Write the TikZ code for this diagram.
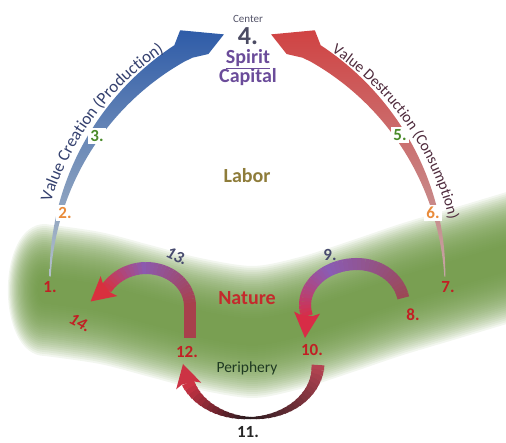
\documentclass[tikz,border=0pt]{standalone}
\usepackage{fontspec}
\setmainfont{Carlito}
\usetikzlibrary{calc,decorations.text}

% palette
\definecolor{blobgreen}{HTML}{6C9642}
\definecolor{vcTop}{HTML}{2F5CA8}
\definecolor{vcMid}{HTML}{4A76BA}
\definecolor{vcBot}{HTML}{B4C0CA}
\definecolor{vdTop}{HTML}{D04343}
\definecolor{vdMid}{HTML}{D45C5C}
\definecolor{vdBot}{HTML}{C4A6A6}
\definecolor{vcText}{HTML}{34406E}
\definecolor{vdText}{HTML}{4E2A3C}
\definecolor{centerGray}{HTML}{55556A}
\definecolor{fourGray}{HTML}{4B4B63}
\definecolor{spiritPurple}{HTML}{6B4C9A}
\definecolor{laborGold}{HTML}{8E7C3A}
\definecolor{natureRed}{HTML}{C42A2C}
\definecolor{peripheryGreen}{HTML}{1F3A22}
\definecolor{numRed}{HTML}{C21F24}
\definecolor{numOrange}{HTML}{E98B3A}
\definecolor{numGreen}{HTML}{4B8B2B}
\definecolor{numSlate}{HTML}{474A6E}
\definecolor{numDark}{HTML}{262626}
% small loop arrows: start / middle / end colours
\definecolor{aS}{HTML}{A8404C}
\definecolor{aM}{HTML}{8C5AAE}
\definecolor{aE}{HTML}{D8303E}
\definecolor{bS}{HTML}{9C4856}
\definecolor{bM}{HTML}{8A5CB4}
\definecolor{bE}{HTML}{D82C46}
\definecolor{cS}{HTML}{B44452}
\definecolor{cM}{HTML}{2A1A1E}
\definecolor{cE}{HTML}{CC3344}

% arrow head: #1 base centre, #2 tip, #3 colour, #4 half shaft width
\newcommand\headat[4]{%
  \path ($(#1)!-3pt!(#2)$) coordinate (hq);
  \fill[#3] ($(#1)!#4!90:(#2)$) -- ($(hq)!13pt!90:(#2)$) -- (#2)
    -- ($(hq)!13pt!-90:(#2)$) -- ($(#1)!#4!-90:(#2)$) -- cycle;
}

\begin{document}
\begin{tikzpicture}[x=1pt,y=1pt,
  num/.style={font=\bfseries\fontsize{17}{17}\selectfont, inner sep=1pt},
  gapnum/.style={num, fill=white, inner sep=2pt},
  slanted/.style={font=\bfseries\itshape\fontsize{17}{17}\selectfont, inner sep=1pt},
  word/.style={font=\bfseries\fontsize{20}{20}\selectfont, inner sep=0pt}]
\useasboundingbox (0,0) rectangle (506,443);
\clip (0,0) rectangle (506,443);

% soft green band of nature, built from many faint layers
\foreach \e in {14,16,...,66}{
  \fill[blobgreen, opacity=0.085]
    plot[smooth] coordinates {(45,{153+\e}) (100,{145+\e}) (150,{132+\e}) (200,{119+\e}) (253,{111+\e}) (300,{120+\e}) (350,{136+\e}) (400,{153+\e}) (450,{168+\e}) (500,{183+\e}) (540,{195+\e})}
    -- plot[smooth] coordinates {(540,{195-\e}) (500,{183-\e}) (450,{168-\e}) (400,{153-\e}) (350,{136-\e}) (300,{120-\e}) (253,{111-\e}) (200,{119-\e}) (150,{132-\e}) (100,{145-\e}) (45,{153-\e})}
    .. controls ({45-0.75*\e},{153-\e}) and ({45-0.75*\e},{153+\e}) .. (45,{153+\e}) -- cycle;
}

% value creation arc (left)
\shade[top color=vcTop, middle color=vcMid, bottom color=vcBot]
  plot[domain=178:121, samples=45, variable=\t]
    ({319+(269.5+(178-\t)*0.2)*cos(\t)}, {157+(269.5+(178-\t)*0.2)*sin(\t)})
  -- ([shift={(118.5:291)}]319,157) -- ([shift={(110.7:269)}]319,157)
  -- ([shift={(115.5:257)}]319,157) -- ([shift={(119:261)}]319,157)
  -- plot[domain=121:178, samples=45, variable=\t]
    ({319+(268.5-(178-\t)*0.12)*cos(\t)}, {157+(268.5-(178-\t)*0.12)*sin(\t)})
  -- cycle;

% value destruction arc (right)
\shade[top color=vdTop, middle color=vdMid, bottom color=vdBot]
  plot[domain=2:59, samples=45, variable=\t]
    ({176+(269.5+(\t-2)*0.2)*cos(\t)}, {157+(269.5+(\t-2)*0.2)*sin(\t)})
  -- ([shift={(61.5:291)}]176,157) -- ([shift={(69.3:269)}]176,157)
  -- ([shift={(64.5:257)}]176,157) -- ([shift={(61:261)}]176,157)
  -- plot[domain=59:2, samples=45, variable=\t]
    ({176+(268.5-(\t-2)*0.12)*cos(\t)}, {157+(268.5-(\t-2)*0.12)*sin(\t)})
  -- cycle;

% arc captions
\path[decorate, decoration={text along path, text align=center, text color=vcText,
    text={|\fontsize{17}{17}\selectfont|Value Creation (Production)}}]
  ([shift={(167:281)}]319,157) arc[start angle=167, end angle=119, radius=281];
\path[decorate, decoration={text along path, text align=center, text color=vdText,
    text={|\fontsize{15.5}{15.5}\selectfont|Value Destruction (Consumption)}}]
  ([shift={(59:281)}]176,157) arc[start angle=59, end angle=11, radius=281];

% loop 12 -> 13 -> 14
\draw[line width=12pt, aS] (190,105) -- (190,137.5);
\foreach \a in {0,5,...,85}{
  \pgfmathtruncatemacro\p{\a/90*100}
  \draw[line width=12pt, color=aM!\p!aS] ([shift={(\a:44 and 38)}]146,137)
    arc[start angle=\a, end angle=\a+5.6, x radius=44, y radius=38];
}
\foreach \a in {90,95,...,140}{
  \pgfmathtruncatemacro\p{(\a-90)/55*100}
  \draw[line width=12pt, color=aE!\p!aM] ([shift={(\a:48 and 47)}]146,128)
    arc[start angle=\a, end angle=\a+5.6, x radius=48, y radius=47];
}
\coordinate (hA) at (106.7,155.0);
\coordinate (tA) at (90.6,141.5);
\headat{hA}{tA}{aE}{6pt}

% loop 8 -> 9 -> 10
\foreach \a in {10,15,...,85}{
  \pgfmathtruncatemacro\p{(\a-10)/110*100}
  \draw[line width=12pt, color=bM!\p!bS] ([shift={(\a:47 and 41)}]357,138)
    arc[start angle=\a, end angle=\a+5.6, x radius=47, y radius=41];
}
\foreach \a in {90,95,...,190}{
  \ifnum\a<120
    \pgfmathtruncatemacro\p{(\a-10)/110*100}
    \colorlet{segcol}{bM!\p!bS}
  \else
    \pgfmathtruncatemacro\p{(\a-120)/75*100}
    \colorlet{segcol}{bE!\p!bM}
  \fi
  \draw[line width=12pt, segcol] ([shift={(\a:52 and 41)}]357,138)
    arc[start angle=\a, end angle=\a+5.6, x radius=52, y radius=41];
}
\coordinate (hB) at (306.8,127.4);
\coordinate (tB) at (305,105);
\headat{hB}{tB}{bE}{6pt}

% loop 10 -> 11 -> 12, thinning towards the bottom
\foreach \a in {360,355,...,205}{
  \ifnum\a>270
    \pgfmathsetmacro\w{2+11*(\a-2.5-270)/90}
    \pgfmathtruncatemacro\p{(360-\a)/90*100}
    \colorlet{segcol}{cM!\p!cS}
  \else
    \pgfmathsetmacro\w{2+11*abs(270-\a+2.5)/70}
    \pgfmathtruncatemacro\p{(270-\a)/65*100}
    \colorlet{segcol}{cE!\p!cM}
  \fi
  \draw[line width=\w pt, segcol] ([shift={(\a:67 and 53)}]251,78)
    arc[start angle=\a, end angle=\a-5.6, x radius=67, y radius=53];
}
\coordinate (hC) at (188.0,59.9);
\coordinate (tC) at (183,79);
\headat{hC}{tC}{cE}{6.5pt}

% centre words
\node[font=\fontsize{11}{11}\selectfont, text=centerGray, inner sep=0pt] (center) at (248,424) {Center};
\node[font=\bfseries\fontsize{26}{26}\selectfont, text=fourGray, inner sep=0pt] (four) at (248,407) {4.};
\node[word, text=spiritPurple] (spirit) at (248,384) {\underline{Spirit}};
\node[word, text=spiritPurple] (capital) at (248,366) {Capital};
\node[word, text=laborGold] (labor) at (247,267) {Labor};
\node[word, text=natureRed] (nature) at (247,145) {Nature};
\node[font=\fontsize{15.5}{15.5}\selectfont, text=peripheryGreen, inner sep=0pt] (periphery) at (247,75) {Periphery};

% stage numbers
\node[num, text=numRed] (n1) at (50,156) {1.};
\node[gapnum, text=numOrange] (n2) at (65,230) {2.};
\node[gapnum, text=numGreen] (n3) at (97,307) {3.};
\node[gapnum, text=numGreen] (n5) at (400,308) {5.};
\node[gapnum, text=numOrange] (n6) at (433,230) {6.};
\node[num, text=numRed] (n7) at (448,156) {7.};
\node[num, text=numRed] (n8) at (413,128) {8.};
\node[num, text=numSlate] (n9) at (330,188) {9.};
\node[num, text=numRed] (n10) at (312,93) {10.};
\node[num, text=numDark] (n11) at (248,11) {11.};
\node[num, text=numRed] (n12) at (187,91) {12.};
\node[slanted, text=numSlate, rotate=-25] (n13) at (177,187) {13.};
\node[slanted, text=numRed, rotate=-28] (n14) at (80,120) {14.};
\end{tikzpicture}
\end{document}
